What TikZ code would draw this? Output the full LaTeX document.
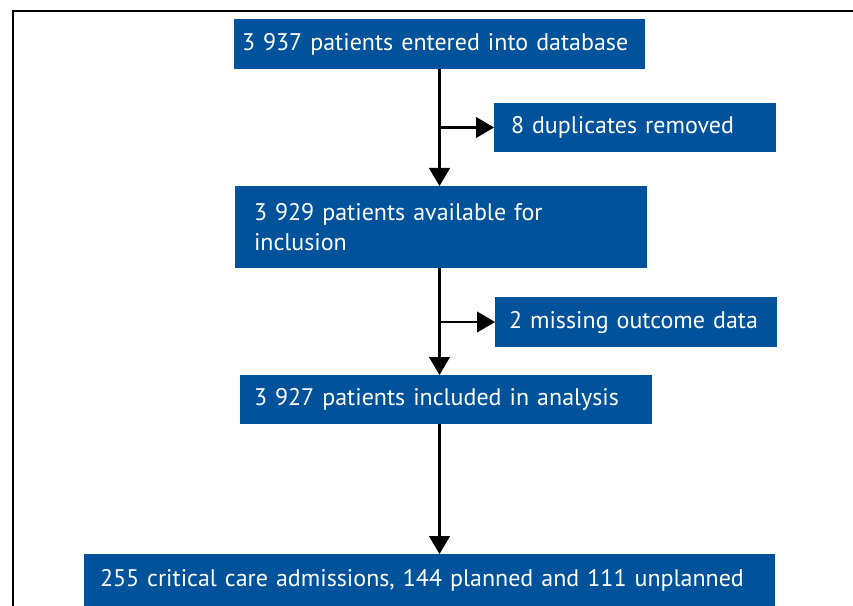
\documentclass[tikz,border=0pt]{standalone}
\usepackage{fontspec}
\setmainfont{PT Sans}
\usetikzlibrary{arrows.meta}
\definecolor{boxblue}{RGB}{0,82,155}
\hyphenpenalty=10000

\tikzset{
    flowbox/.style={fill=boxblue, text=white, align=left, anchor=north west,
        inner ysep=0pt, outer sep=0pt,
        font=\fontsize{18}{22.5}\selectfont},
    flowarrow/.style={-{Triangle[length=13.5pt,width=15.5pt]}, line width=1.6pt}
}

\begin{document}
\begin{tikzpicture}[x=0.75pt,y=-0.75pt]
            \useasboundingbox (0,0) rectangle (853,606);
            % frame
            \draw[line width=0.8pt] (13,700) -- (13,11) -- (900,11);
            % boxes
            \node[flowbox, text width=296.25pt, inner xsep=6pt, minimum height=37.5pt] (entered) at (234,19) {3 937 patients entered into database};
            \node[flowbox, text width=186pt, inner xsep=12.75pt, minimum height=36.75pt] (dupl) at (494,103) {8 duplicates removed};
            \node[flowbox, text width=280.5pt, inner xsep=14.25pt, minimum height=61.5pt] (avail) at (235,186) {3 929 patients available for\\inclusion};
            \node[flowbox, text width=190.5pt, inner xsep=10.5pt, minimum height=37.5pt] (missing) at (495,297) {2 missing outcome data};
            \node[flowbox, text width=288pt, inner xsep=10.5pt, minimum height=36.75pt] (incl) at (240,375) {3 927 patients included in analysis};
            \node[flowbox, text width=494.25pt, inner xsep=12pt, minimum height=39pt] (adm) at (84,554) {255 critical care admissions, 144 planned and 111 unplanned};
            % arrows
            \draw[flowarrow] (entered.south) -- (avail.north -| entered.south);
            \draw[flowarrow] (dupl.west -| entered.south) -- (dupl.west);
            \draw[flowarrow] (avail.south -| entered.south) -- (incl.north -| entered.south);
            \draw[flowarrow] (missing.west -| entered.south) -- (missing.west);
            \draw[flowarrow] (incl.south -| entered.south) -- (adm.north -| entered.south);
        \end{tikzpicture}
\end{document}
